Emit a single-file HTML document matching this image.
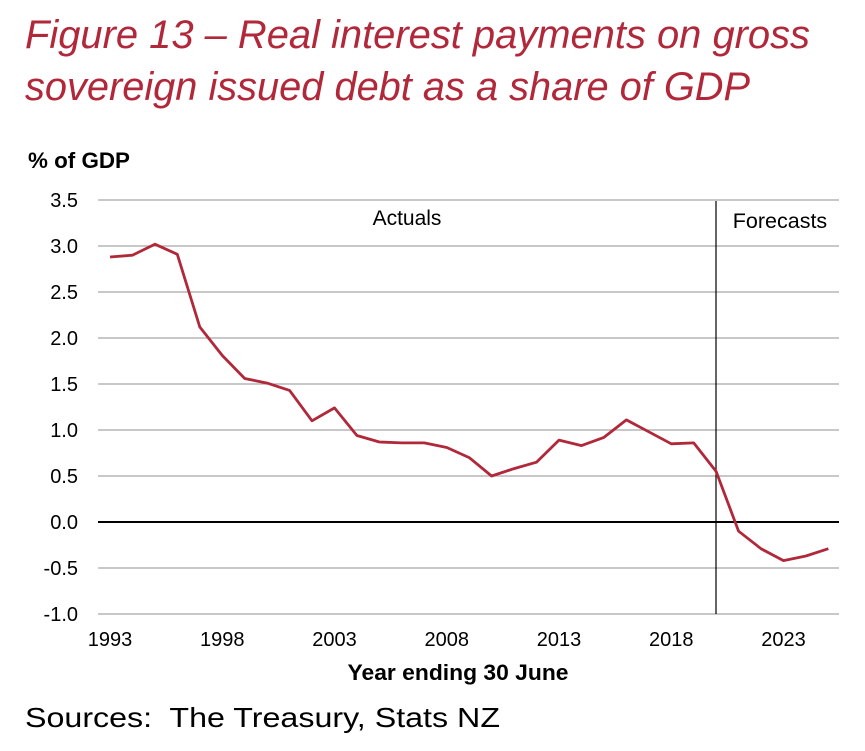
<!DOCTYPE html>
<html><head><meta charset="utf-8"><style>
body{margin:0;background:#fff;width:865px;height:746px;overflow:hidden;font-family:"Liberation Sans",Arial,sans-serif}
</style></head><body>
<svg width="865" height="746" xmlns="http://www.w3.org/2000/svg" font-family="Liberation Sans, Arial, sans-serif">
<text x="25" y="48" font-size="40" font-style="italic" fill="#b0283a" textLength="785" lengthAdjust="spacingAndGlyphs">Figure 13 – Real interest payments on gross</text>
<text x="25" y="100" font-size="40" font-style="italic" fill="#b0283a" textLength="725" lengthAdjust="spacingAndGlyphs">sovereign issued debt as a share of GDP</text>
<text x="28" y="168" font-size="22" font-weight="bold" fill="#000" textLength="102" lengthAdjust="spacingAndGlyphs">% of GDP</text>
<g id="grid" stroke="#a6a6a6" stroke-width="1.3"></g>
<line x1="98" y1="522" x2="839" y2="522" stroke="#000" stroke-width="2"/>
<line x1="716" y1="201" x2="716" y2="614" stroke="#000" stroke-width="1.2"/>
<g id="ylab" font-size="20" text-anchor="end" fill="#000"></g>
<g id="xlab" font-size="20" text-anchor="middle" fill="#000"></g>
<text x="407" y="225" font-size="21" text-anchor="middle">Actuals</text>
<text x="780" y="228" font-size="21.5" text-anchor="middle">Forecasts</text>
<polyline id="line" fill="none" stroke="#b0283a" stroke-width="2.8" stroke-linejoin="round"/>
<text x="458" y="680" font-size="22" font-weight="bold" text-anchor="middle" textLength="221" lengthAdjust="spacingAndGlyphs">Year ending 30 June</text>
<text x="25" y="727" font-size="28" fill="#000" textLength="475" lengthAdjust="spacingAndGlyphs">Sources:&#160; The Treasury, Stats NZ</text>
</svg>
<script>
var ns="http://www.w3.org/2000/svg";
function Y(v){return 522-v*92;}
function X(yr){return 110+(yr-1993)*22.45;}
var g=document.getElementById('grid'),yl=document.getElementById('ylab'),xl=document.getElementById('xlab');
for(var v=-1;v<=3.51;v+=0.5){
 if(Math.abs(v)>0.01){var l=document.createElementNS(ns,'line');l.setAttribute('x1',98);l.setAttribute('x2',839);l.setAttribute('y1',Y(v));l.setAttribute('y2',Y(v));g.appendChild(l);}
 var t=document.createElementNS(ns,'text');t.setAttribute('x',78);t.setAttribute('y',Y(v)+7);t.textContent=v.toFixed(1);yl.appendChild(t);
}
for(var yr=1993;yr<=2023;yr+=5){var t=document.createElementNS(ns,'text');t.setAttribute('x',X(yr));t.setAttribute('y',646);t.textContent=yr;xl.appendChild(t);}
var d=[2.88,2.90,3.02,2.91,2.12,1.81,1.56,1.51,1.43,1.10,1.24,0.94,0.87,0.86,0.86,0.81,0.70,0.50,0.58,0.65,0.89,0.83,0.92,1.11,0.98,0.85,0.86,0.55,-0.10,-0.29,-0.42,-0.37,-0.29];
document.getElementById('line').setAttribute('points',d.map(function(v,i){return X(1993+i).toFixed(1)+','+Y(v).toFixed(1)}).join(' '));
</script>
</body></html>
